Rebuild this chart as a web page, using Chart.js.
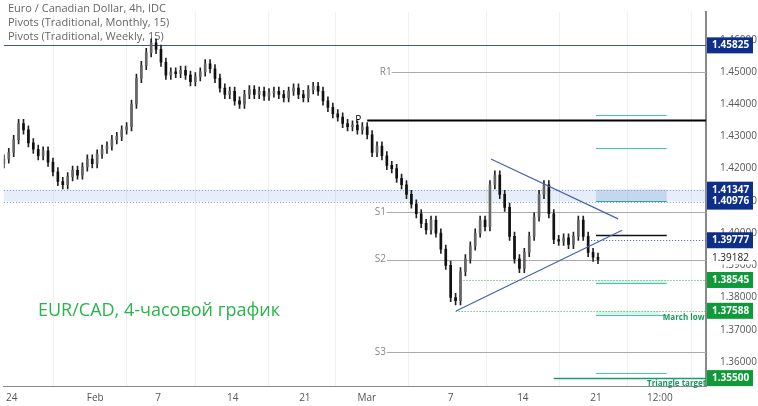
<!DOCTYPE html>
<html>
<head>
<meta charset="utf-8">
<script src="https://cdn.jsdelivr.net/npm/chart.js@4"></script>
<style>
  html, body { margin: 0; padding: 0; background: #fff; }
  #wrap { width: 758px; height: 406px; }
</style>
</head>
<body>
<div id="wrap"><canvas id="c" width="758" height="406"></canvas></div>
<script>
// 4h closes, EUR/CAD
const closes = [1.4230,1.4250,1.4290,1.4340,1.4320,1.4280,1.4260,1.4240,1.4255,1.4220,
  1.4190,1.4160,1.4150,1.4175,1.4195,1.4180,1.4205,1.4230,1.4215,1.4245,
  1.4260,1.4270,1.4290,1.4300,1.4320,1.4330,1.4400,1.4480,1.4520,1.4560,
  1.4590,1.4570,1.4530,1.4490,1.4500,1.4495,1.4505,1.4490,1.4470,1.4485,
  1.4500,1.4525,1.4510,1.4480,1.4450,1.4430,1.4440,1.4410,1.4400,1.4430,
  1.4445,1.4430,1.4440,1.4425,1.4435,1.4440,1.4430,1.4420,1.4440,1.4450,
  1.4430,1.4420,1.4445,1.4455,1.4440,1.4410,1.4390,1.4370,1.4360,1.4340,
  1.4330,1.4335,1.4320,1.4330,1.4305,1.4250,1.4270,1.4240,1.4210,1.4200,
  1.4170,1.4150,1.4120,1.4090,1.4060,1.4030,1.4010,1.4040,1.4000,1.3950,
  1.3900,1.3800,1.3790,1.3880,1.3920,1.3960,1.4000,1.4040,1.4020,1.4150,
  1.4180,1.4120,1.4080,1.3990,1.3920,1.3890,1.3940,1.3990,1.4050,1.4120,
  1.4150,1.4060,1.3980,1.3975,1.3985,1.3965,1.3990,1.4040,1.3990,1.3940,
  1.3925,1.3918];
const firstOpen = 1.4215;
const wick = 0.0013;

// x tick positions (candle index) and their labels
const tickPos = [1.6, 18.6, 31.4, 46.6, 61.3, 73.9, 91, 105.7, 120.6, 133.6];
const tickLabels = ["24", "Feb", "7", "14", "21", "Mar", "7", "14", "21", "12:00"];
const yTicks = [1.36,1.37,1.38,1.39,1.40,1.41,1.42,1.43,1.44,1.45,1.46];

// monthly pivots [name, value, from index]
const monthlyPivots = [["R1",1.4500,79],["P",1.4351,74],["S1",1.4065,78],["S2",1.3918,78],["S3",1.3631,78]];
// weekly pivots [value, colour]
const weeklyPivots = [[1.4365,"#40c8b0"],[1.4265,"#40c8b0"],[1.4098,"#30a8a0"],[1.3995,"#111"],[1.3845,"#40c8b0"],[1.3745,"#40c8b0"],[1.3565,"#40c8b0"]];
const resistBand = [1.40976, 1.41347];
const febHigh = 1.45825;
const dottedBlue = 1.39777;
const greenLevels = [[1.38545, 93], [1.37588, 92]];
const triTarget = 1.35500;
const lastPrice = 1.39182;
const triUpper = [{x:99.2,y:1.4230},{x:125.1,y:1.4044}];
const triLower = [{x:92.1,y:1.3758},{x:125.9,y:1.4009}];
const blueTags = [1.45825, 1.41347, 1.40976, 1.39777];
const greenTags = [1.38545, 1.37588, 1.35500];

const opens = closes.map((c, i) => i === 0 ? firstOpen : closes[i - 1]);
const wicks = closes.map((c, i) => ({x: i, y: [Math.min(opens[i], c) - wick, Math.max(opens[i], c) + wick]}));
const bodies = closes.map((c, i) => ({x: i, y: [opens[i], c]}));
const bodyCol = closes.map((c, i) => c >= opens[i] ? "#666" : "#111");

const levels = {
  id: "levels",
  beforeDatasetsDraw(chart) {
    const {ctx, chartArea: a, scales: {x, y}} = chart;
    const hl = (v, x0, x1, col, w, dash) => {
      ctx.save(); ctx.strokeStyle = col; ctx.lineWidth = w; ctx.setLineDash(dash || []);
      ctx.beginPath(); const py = Math.round(y.getPixelForValue(v)) + 0.5;
      ctx.moveTo(x0, py); ctx.lineTo(x1, py); ctx.stroke(); ctx.restore();
    };
    // resistance band
    const b0 = y.getPixelForValue(resistBand[1]), b1 = y.getPixelForValue(resistBand[0]);
    ctx.fillStyle = "rgba(120,160,220,0.18)"; ctx.fillRect(a.left, b0, a.width, b1 - b0);
    hl(resistBand[1], a.left, a.right, "#7a9ad0", 1, [1, 2]);
    hl(resistBand[0], a.left, a.right, "#7a9ad0", 1, [1, 2]);
    hl(febHigh, a.left, a.right, "#3a5a9a", 1.2);
    ctx.font = "10px 'Open Sans'"; ctx.fillStyle = "#888"; ctx.textBaseline = "middle";
    monthlyPivots.forEach(([n, v, from]) => {
      const x0 = x.getPixelForValue(from);
      if (n === "P") hl(v, x0, a.right, "#000", 2);
      else hl(v, x0, a.right, "#aaa", 1);
      ctx.fillStyle = n === "P" ? "#000" : "#888";
      ctx.fillText(n, x0 - 12, y.getPixelForValue(v));
    });
    // weekly area
    const wx0 = x.getPixelForValue(120.6), wx1 = x.getPixelForValue(135);
    ctx.fillStyle = "rgba(120,160,220,0.3)"; ctx.fillRect(wx0, b0, wx1 - wx0, b1 - b0);
    ctx.fillStyle = "rgba(80,200,140,0.2)";
    ctx.fillRect(wx0, y.getPixelForValue(1.38545), wx1 - wx0, y.getPixelForValue(1.3845) - y.getPixelForValue(1.38545));
    ctx.fillRect(wx0, y.getPixelForValue(1.37588), x.getPixelForValue(133.5) - wx0, y.getPixelForValue(1.3745) - y.getPixelForValue(1.37588));
    weeklyPivots.forEach(([v, c]) => hl(v, wx0, wx1, c, c === "#111" ? 1.5 : 1));
    hl(dottedBlue, x.getPixelForValue(119), a.right, "#3a5aaa", 1, [1, 2]);
    greenLevels.forEach(([v, from]) => hl(v, x.getPixelForValue(from), a.right, "#2bb34a", 1, [1, 2]));
    hl(triTarget, x.getPixelForValue(112), a.right, "#1a9a6a", 1.5);
    ctx.fillStyle = "#1a9a5a"; ctx.font = "bold 8px 'Open Sans'"; ctx.textAlign = "left";
    ctx.fillText("March low", x.getPixelForValue(134.2), y.getPixelForValue(1.3737));
    ctx.fillText("Triangle target", x.getPixelForValue(131), y.getPixelForValue(1.3519) - 4);
    // chart title texts
    ctx.font = "11px 'Open Sans'"; ctx.fillStyle = "#666";
    ctx.fillText("Euro / Canadian Dollar, 4h, IDC", 8, 9);
    ctx.fillText("Pivots (Traditional, Monthly, 15)", 8, 23);
    ctx.fillText("Pivots (Traditional, Weekly, 15)", 8, 37);
    ctx.font = "18px 'Open Sans'"; ctx.fillStyle = "#2ab54a";
    ctx.fillText("EUR/CAD, 4-часовой график", 38, 311);
  },
  afterDraw(chart) {
    const {ctx, chartArea: a, scales: {y}} = chart;
    ctx.save();
    ctx.font = "bold 10px 'Open Sans'"; ctx.textBaseline = "middle"; ctx.textAlign = "left";
    const tag = (v, bg) => {
      const py = y.getPixelForValue(v);
      ctx.fillStyle = bg; ctx.fillRect(a.right + 1, py - 8, 46, 16);
      ctx.fillStyle = "#fff"; ctx.fillText(v.toFixed(5), a.right + 6, py);
    };
    blueTags.forEach(v => tag(v, "#0d2f8a"));
    greenTags.forEach(v => tag(v, "#0f9a3a"));
    ctx.fillStyle = "#fff"; ctx.fillRect(a.right + 1, y.getPixelForValue(lastPrice) - 7, 46, 12);
    ctx.font = "10px 'Open Sans'"; ctx.fillStyle = "#222";
    ctx.fillText(lastPrice.toFixed(5), a.right + 6, y.getPixelForValue(lastPrice) - 1);
    ctx.restore();
  }
};

new Chart(document.getElementById("c"), {
  data: {
    datasets: [
      {type: "bar", data: wicks, backgroundColor: "#222", barThickness: 1, grouped: false, order: 2},
      {type: "bar", data: bodies, backgroundColor: bodyCol, borderWidth: 0, barThickness: 2, grouped: false, order: 1},
      {type: "line", data: triUpper, borderColor: "#4a60b0", borderWidth: 1.2, pointRadius: 0, order: 0},
      {type: "line", data: triLower, borderColor: "#4a60b0", borderWidth: 1.2, pointRadius: 0, order: 0}
    ]
  },
  options: {
    responsive: false, animation: false,
    layout: {padding: 0},
    plugins: {legend: {display: false}, tooltip: {enabled: false}},
    scales: {
      x: {
        type: "linear", min: 0, max: 143, offset: false,
        grid: {color: "#f0f0f0", drawTicks: false},
        border: {color: "#888"},
        afterBuildTicks: s => { s.ticks = tickPos.map(v => ({value: v})); },
        ticks: {
          autoSkip: false, maxRotation: 0, padding: 6,
          color: "#555", font: {size: 10, family: "'Open Sans'"},
          callback: (v, i) => tickLabels[i]
        },
        afterFit: s => { s.height = 20; }
      },
      y: {
        position: "right", min: 1.35255, max: 1.4686,
        grid: {display: false},
        border: {color: "#888", width: 2},
        afterBuildTicks: s => { s.ticks = yTicks.map(v => ({value: v})); },
        ticks: {color: "#555", font: {size: 10, family: "'Open Sans'"}, padding: 6,
          callback: v => v.toFixed(5)},
        afterFit: s => { s.width = 52; }
      }
    }
  },
  plugins: [levels]
});
</script>
</body>
</html>
